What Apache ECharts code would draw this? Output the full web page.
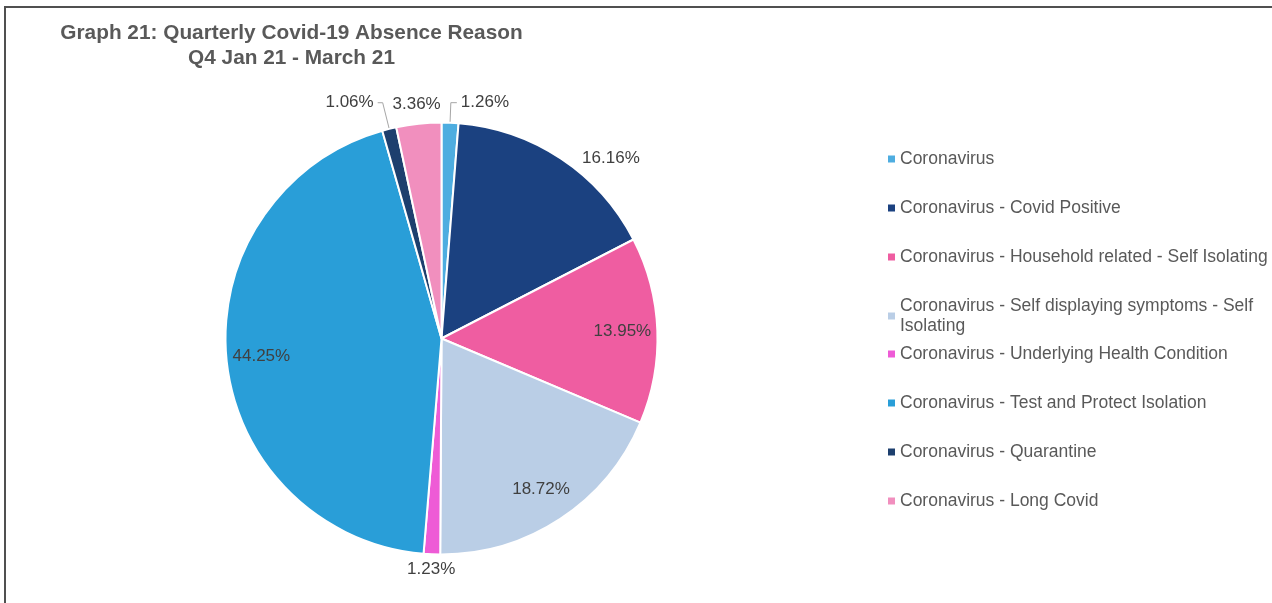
<!DOCTYPE html>
<html>
<head>
<meta charset="utf-8">
<title>Graph 21: Quarterly Covid-19 Absence Reason</title>
<script src="https://cdn.jsdelivr.net/npm/echarts@6/dist/echarts.min.js"></script>
<style>
  html, body { margin: 0; padding: 0; background: #ffffff; }
  #wrap { position: relative; width: 1272px; height: 603px; overflow: hidden; }
  #chart { position: absolute; left: 0; top: 0; width: 1272px; height: 603px; }
  #frame { position: absolute; left: 4px; top: 6px; right: -10px; bottom: -10px;
           border-left: 2px solid #505050; border-top: 2px solid #505050; pointer-events: none; }
</style>
</head>
<body>
<div id="wrap">
  <div id="chart"></div>
  <div id="frame"></div>
</div>
<script>
// Absence reasons for Q4 (Jan 21 - March 21), share of Covid-19 absences in %
const categories = [
  'Coronavirus',
  'Coronavirus - Covid Positive',
  'Coronavirus - Household related - Self Isolating',
  'Coronavirus - Self displaying symptoms - Self Isolating',
  'Coronavirus - Underlying Health Condition',
  'Coronavirus - Test and Protect Isolation',
  'Coronavirus - Quarantine',
  'Coronavirus - Long Covid'
];
const shares = [1.26, 16.16, 13.95, 18.72, 1.23, 44.25, 1.06, 3.36];
const sliceColors = ['#4eade0', '#1b4180', '#ef5da1', '#bacee6', '#ee5bd6', '#299ed8', '#1d3f6e', '#f18fbe'];

// where each slice's percentage is written
const labelPlacement = ['leader', 'outside', 'inside', 'inside', 'below', 'inside', 'leader', 'above'];

const FONT = "'Liberation Sans', Arial, sans-serif";
const LABEL_COLOR = '#404040';
const CENTER = [441.5, 338.5];
const R = 216;

const fmt = p => p.value.toFixed(2) + '%';

// solid pie; carries the labels that sit outside with (or next to) a leader
const mainData = categories.map((name, i) => {
  const item = { name, value: shares[i], itemStyle: { color: sliceColors[i] } };
  const kind = labelPlacement[i];
  if (kind === 'leader') {
    item.label = { show: true, distanceToLabelLine: 4 };
    item.labelLine = { show: true, length: i === 0 ? 20 : 27, length2: i === 0 ? 6 : 5 };
  } else if (kind === 'outside') {
    item.label = { show: true, distanceToLabelLine: 5 };
    item.labelLine = { show: false, length: 0, length2: 16 };
  } else {
    item.label = { show: false };
    item.labelLine = { show: false };
  }
  return item;
});

// transparent rings used only to carry centred labels at a given radius
function labelRing(radius, kinds) {
  return {
    type: 'pie',
    silent: true,
    center: CENTER,
    radius: radius,
    startAngle: 90,
    avoidLabelOverlap: false,
    emphasis: { disabled: true },
    tooltip: { show: false },
    itemStyle: { color: 'rgba(0,0,0,0)', borderWidth: 0 },
    labelLine: { show: false },
    data: categories.map((name, i) => ({
      name,
      value: shares[i],
      label: { show: kinds.indexOf(labelPlacement[i]) >= 0 }
    })),
    label: {
      position: 'inside',
      formatter: fmt,
      color: LABEL_COLOR,
      fontFamily: FONT,
      fontSize: 17,
      textBorderWidth: 0
    }
  };
}

// legend column, split in two blocks so the wrapped entry keeps the even spacing
function legendBlock(names, top) {
  return {
    orient: 'vertical',
    left: 888,
    top: top,
    padding: 0,
    itemGap: 29,
    itemWidth: 7,
    itemHeight: 7,
    icon: 'rect',
    selectedMode: false,
    data: names,
    itemStyle: { borderWidth: 0 },
    textStyle: {
      fontFamily: FONT,
      fontSize: 17.5,
      color: '#595959',
      width: 375,
      overflow: 'break',
      lineHeight: 20
    }
  };
}

const chart = echarts.init(document.getElementById('chart'), null, { renderer: 'canvas' });

chart.setOption({
  animation: false,
  backgroundColor: '#ffffff',
  title: {
    text: 'Graph 21: Quarterly Covid-19 Absence Reason\nQ4 Jan 21 - March 21',
    left: 291.5,
    top: 21,
    padding: 0,
    textAlign: 'center',
    textStyle: {
      fontFamily: FONT,
      fontSize: 20.8,
      fontWeight: 'bold',
      color: '#595959',
      lineHeight: 25
    }
  },
  legend: [
    legendBlock(categories.slice(0, 4), 149),
    legendBlock(categories.slice(4), 344)
  ],
  series: [
    {
      type: 'pie',
      center: CENTER,
      radius: R,
      startAngle: 90,
      clockwise: true,
      avoidLabelOverlap: false,
      emphasis: { scale: false },
      itemStyle: { borderColor: '#ffffff', borderWidth: 2 },
      label: {
        position: 'outside',
        formatter: fmt,
        color: LABEL_COLOR,
        fontFamily: FONT,
        fontSize: 17,
        alignTo: 'none'
      },
      labelLine: {
        lineStyle: { color: '#a6a6a6', width: 1 }
      },
      data: mainData
    },
    labelRing([140, R], ['inside']),
    labelRing([R, 250], ['above']),
    labelRing([212, 244], ['below'])
  ]
});
</script>
</body>
</html>
